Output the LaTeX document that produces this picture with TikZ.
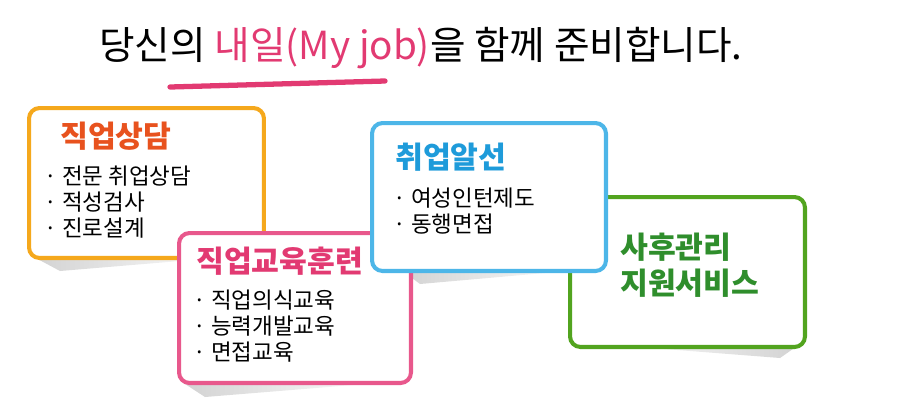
\documentclass[tikz,border=0pt]{standalone}
\usepackage{fontspec}
\setmainfont{Noto Sans CJK KR}
\usepackage{xcolor}
\usetikzlibrary{positioning}
\definecolor{Orange}{HTML}{F5A81C}
\definecolor{OrangeText}{HTML}{E8521E}
\definecolor{Pink}{HTML}{E8588C}
\definecolor{PinkText}{HTML}{E23A72}
\definecolor{Sky}{HTML}{4DB6E8}
\definecolor{SkyText}{HTML}{1E9BDA}
\definecolor{Leaf}{HTML}{52A41F}
\definecolor{LeafText}{HTML}{2F8E2C}

\begin{document}
\begin{tikzpicture}[x=0.02cm, y=-0.02cm,
  card/.style={draw=#1, line width=2.3pt, rounded corners=6pt, fill=white,
    minimum width=4.7cm, minimum height=3cm, anchor=north west, inner sep=0pt},
  cardtitle/.style={font=\fontsize{17.2}{20}\selectfont\bfseries, text=#1, anchor=west, inner sep=0pt},
  itemlist/.style={font=\fontsize{12.8}{14.6}\selectfont, align=left, anchor=north west, inner sep=0pt}]
  \useasboundingbox (0,0) rectangle (901,407);
  % headline
  \node[font=\fontsize{22}{26}\selectfont, anchor=west, inner sep=0pt] (headline) at (99,48)
    {당신의 \textcolor{PinkText}{내일(My job)}을 함께 준비합니다.};
  \draw[PinkText, line width=3pt, line cap=round] (170,87) -- (385,81);
  % shadows
  \shade[left color=gray!35, right color=white] (32,256) -- (240,256) -- (60,271) -- cycle;
  \shade[left color=gray!35, right color=white] (182,382) -- (390,382) -- (205,397) -- cycle;
  \shade[left color=gray!35, right color=white] (400,269) -- (590,269) -- (420,284) -- cycle;
  \shade[left color=white, right color=gray!35] (600,344) -- (800,344) -- (780,358) -- cycle;
  % cards
  \node[card=Orange] (sangdam) at (27,106) {};
  \node[card=Pink, minimum width=4.64cm] (gyoyuk) at (177,231) {};
  \node[card=Leaf] (sahu) at (568,195) {};
  \node[card=Sky, minimum width=4.68cm, minimum height=2.96cm] (alseon) at (370,121) {};
  % texts
  \node[cardtitle=OrangeText] (sangdamT) at (60,136) {직업상담};
  \node[itemlist] (sangdamL) at (44,166) {· 전문 취업상담\\· 적성검사\\· 진로설계};
  \node[cardtitle=PinkText] (gyoyukT) at (196,261) {직업교육훈련};
  \node[itemlist] (gyoyukL) at (193,290) {· 직업의식교육\\· 능력개발교육\\· 면접교육};
  \node[cardtitle=SkyText] (alseonT) at (395,157) {취업알선};
  \node[itemlist] (alseonL) at (393,188) {· 여성인턴제도\\· 동행면접};
  \node[cardtitle=LeafText, align=left, font=\fontsize{17.2}{20.6}\selectfont\bfseries] (sahuT) at (620,265) {사후관리\\지원서비스};
\end{tikzpicture}
\end{document}
